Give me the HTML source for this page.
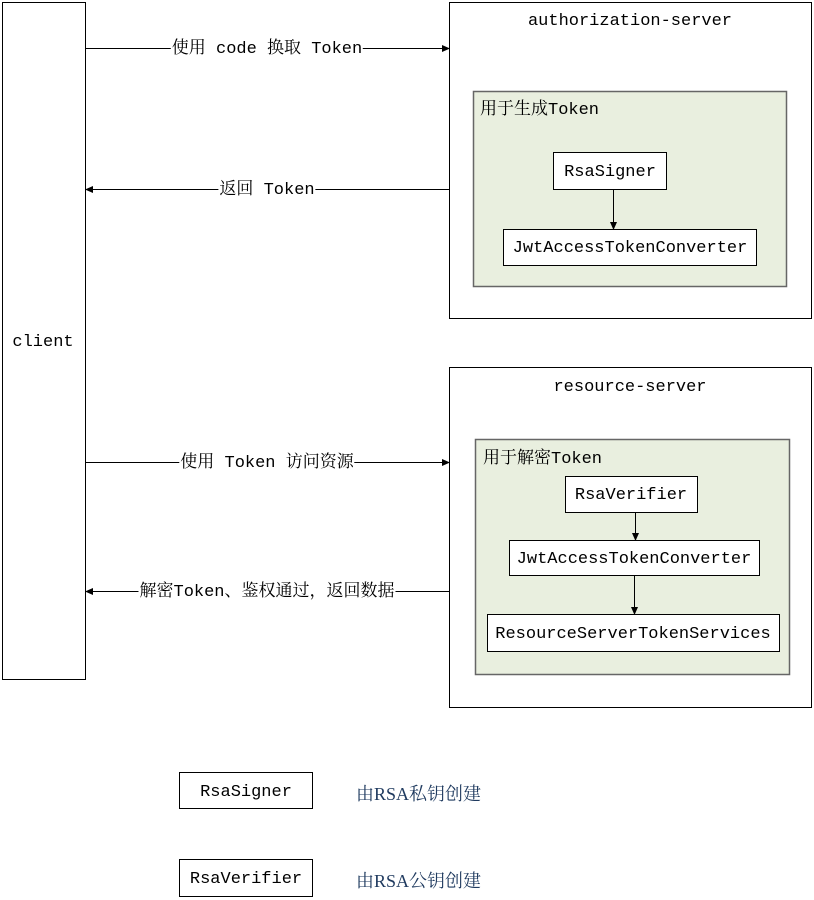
<!DOCTYPE html>
<html><head><meta charset="utf-8"><style>
html,body{margin:0;padding:0;background:#fff;width:814px;height:900px;overflow:hidden}
.t{position:absolute;font-family:"Liberation Mono","Noto Serif CJK SC",monospace;font-size:17px;color:#000;white-space:nowrap;line-height:20px;margin-top:2px}
.c{transform:translate(-50%,-50%)}
.bg{background:#fff;padding:0 1px}
.n{font-family:"Liberation Serif","Noto Serif CJK SC",serif;font-size:18px}
</style></head><body>
<svg width="814" height="900" style="position:absolute;left:0;top:0">
<defs><marker id="a" markerWidth="8" markerHeight="8" refX="7" refY="4" orient="auto" markerUnits="userSpaceOnUse"><path d="M0,0.5 L8,4 L0,7.5 z" fill="#000"/></marker></defs>
<g fill="#fff" stroke="#000" stroke-width="1">
<rect x="2.5" y="2.5" width="83" height="677"/>
<rect x="449.5" y="2.5" width="362" height="316"/>
<rect x="449.5" y="367.5" width="362" height="340"/>
</g>
<g fill="#e9efdf" stroke="#666" stroke-width="1.5">
<rect x="473.5" y="91.5" width="313" height="195"/>
<rect x="475.5" y="439.5" width="314" height="235"/>
</g>
<g fill="#fff" stroke="#000" stroke-width="1">
<rect x="553.5" y="152.5" width="113" height="37"/>
<rect x="503.5" y="229.5" width="253" height="36"/>
<rect x="565.5" y="476.5" width="132" height="36"/>
<rect x="509.5" y="540.5" width="250" height="35"/>
<rect x="487.5" y="614.5" width="292" height="37"/>
<rect x="179.5" y="772.5" width="133" height="36"/>
<rect x="179.5" y="859.5" width="133" height="37"/>
</g>
<g stroke="#000" stroke-width="1" marker-end="url(#a)">
<line x1="86" y1="48.5" x2="449" y2="48.5"/>
<line x1="449" y1="189.5" x2="86" y2="189.5"/>
<line x1="86" y1="462.5" x2="449" y2="462.5"/>
<line x1="449" y1="591.5" x2="86" y2="591.5"/>
<line x1="613.5" y1="190" x2="613.5" y2="229"/>
<line x1="635.5" y1="513" x2="635.5" y2="540"/>
<line x1="634.5" y1="576" x2="634.5" y2="614"/>
</g>
</svg>
<div class="t c" style="left:43px;top:341px">client</div>
<div class="t c" style="left:630px;top:20px">authorization-server</div>
<div class="t c" style="left:630px;top:386px">resource-server</div>
<div class="t" style="left:480px;top:99px">用于生成Token</div>
<div class="t" style="left:483px;top:448px">用于解密Token</div>
<div class="t c" style="left:610px;top:171px">RsaSigner</div>
<div class="t c" style="left:630px;top:247px">JwtAccessTokenConverter</div>
<div class="t c" style="left:631px;top:494px">RsaVerifier</div>
<div class="t c" style="left:634px;top:558px">JwtAccessTokenConverter</div>
<div class="t c" style="left:633px;top:633px">ResourceServerTokenServices</div>
<div class="t c bg" style="left:267px;top:48px">使用 code 换取 Token</div>
<div class="t c bg" style="left:267px;top:189px">返回 Token</div>
<div class="t c bg" style="left:267px;top:462px">使用 Token 访问资源</div>
<div class="t c bg" style="left:267px;top:591px">解密Token、鉴权通过，返回数据</div>
<div class="t c" style="left:246px;top:791px">RsaSigner</div>
<div class="t c" style="left:246px;top:878px">RsaVerifier</div>
<div class="t n" style="left:356px;top:782px;color:#1f3a5f">由RSA私钥创建</div>
<div class="t n" style="left:356px;top:869px;color:#1f3a5f">由RSA公钥创建</div>
</body></html>
